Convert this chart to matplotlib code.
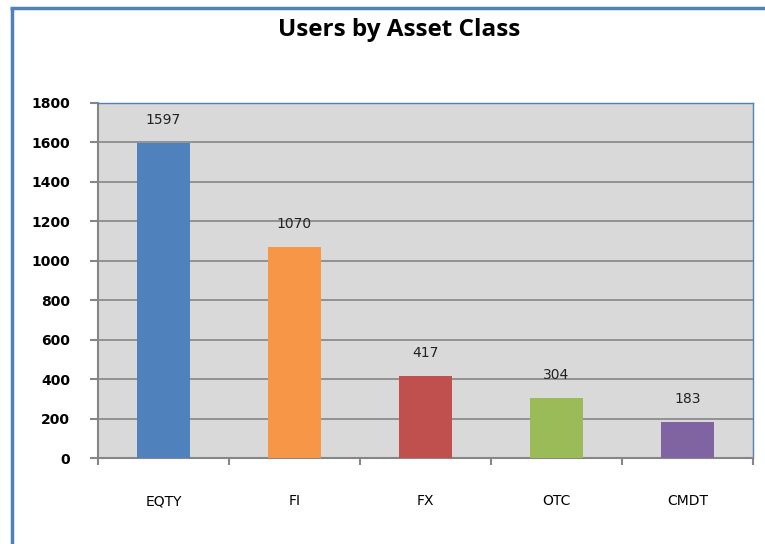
import matplotlib
matplotlib.use('Agg')
import matplotlib.pyplot as plt
from matplotlib.lines import Line2D
import numpy as np

categories = ['EQTY', 'FI', 'FX', 'OTC', 'CMDT']
users = [1597, 1070, 417, 304, 183]
bar_colors = ['#4F81BD', '#F79646', '#C0504D', '#9BBB59', '#8064A2']
yticks = [0, 200, 400, 600, 800, 1000, 1200, 1400, 1600, 1800]

plt.rcParams['font.family'] = ['DejaVu Sans']

fig = plt.figure(figsize=(7.65, 5.44), dpi=100)
fig.patch.set_facecolor('white')

# outer chart border (blue, left and top only visible)
fig.add_artist(Line2D([11.5 / 765, 11.5 / 765], [0, 1 - 7.5 / 544], color='#4F81BD',
                      lw=2.5, solid_capstyle='butt'))
fig.add_artist(Line2D([10 / 765, 1], [1 - 7.5 / 544, 1 - 7.5 / 544], color='#4F81BD',
                      lw=2.5, solid_capstyle='butt'))

ax = fig.add_axes([98 / 765, 1 - 458 / 544, 655 / 765, 355 / 544])
ax.set_facecolor('#D9D9D9')

x = np.arange(len(categories))
ax.bar(x, users, width=0.4, color=bar_colors, zorder=3)
for xi, v in zip(x, users):
    ax.text(xi, v + 80, str(v), ha='center', va='bottom', fontsize=10, color='#222222', zorder=4)

ax.set_xlim(-0.5, len(categories) - 0.5)
ax.set_ylim(0, 1800)
ax.set_yticks(yticks)
ax.set_yticklabels([str(t) for t in yticks], fontsize=10, fontweight='bold')
ax.yaxis.grid(True, color='#868686', lw=1.2, zorder=1)
ax.set_axisbelow(True)

ax.set_xticks(x)
ax.set_xticklabels(categories, fontsize=10)
ax.set_xticks(np.arange(-0.5, len(categories)), minor=True)
ax.tick_params(axis='x', which='major', length=0, pad=26)
ax.tick_params(axis='x', which='minor', length=5, width=1.5, color='#868686', direction='out')
ax.tick_params(axis='y', length=6, width=1.5, color='#868686', direction='out', pad=14)

for side in ['left', 'bottom']:
    ax.spines[side].set_color('#868686')
    ax.spines[side].set_linewidth(1.5)
for side in ['top', 'right']:
    ax.spines[side].set_color('#4F81BD')
    ax.spines[side].set_linewidth(1)

fig.text(399 / 765, 1 - 30 / 544, 'Users by Asset Class', ha='center', va='center',
         fontsize=17.5, fontweight='bold', family='Open Sans')

fig.savefig('out.png', dpi=100)
